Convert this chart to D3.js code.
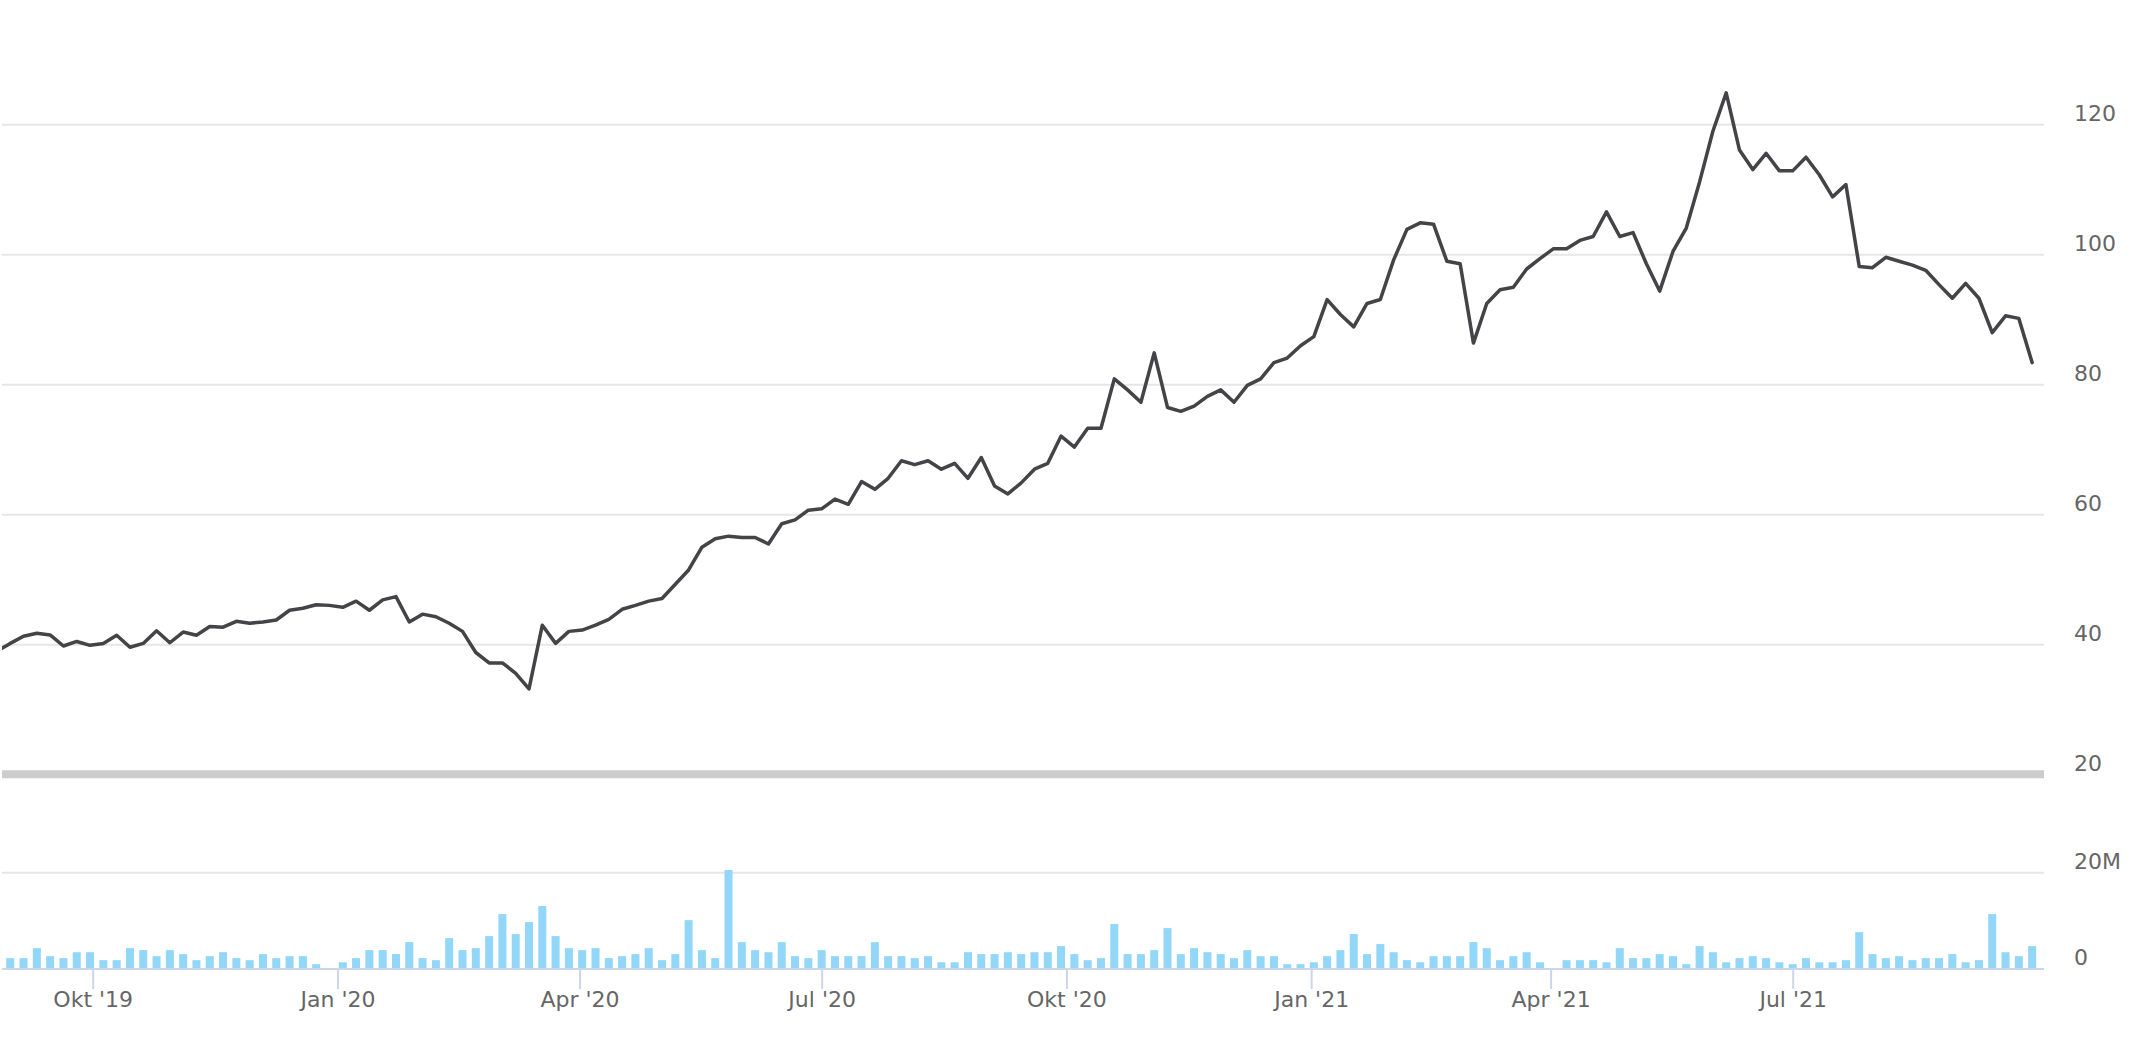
<!DOCTYPE html>
<html>
<head>
<meta charset="utf-8">
<script src="https://cdn.jsdelivr.net/npm/d3@7"></script>
<style>
  html, body { margin: 0; padding: 0; background: #ffffff; }
  svg { display: block; }
  .lbl text { font-family: "DejaVu Sans", sans-serif; font-size: 22px; fill: #666666; }
</style>
</head>
<body>
<svg id="chart" width="2144" height="1038"></svg>
<script>
// ---------- data ----------
// Price points: one every 5 days, first one (2019-08-26) lies just left of the visible plot
const priceStart = "2019-08-26";
const volumeStart = "2019-08-31";
const stepDays = 5;

const prices = [
  39.0,
  40.2, 41.3, 41.75, 41.5, 39.8, 40.5, 39.9, 40.2, 41.45, 39.6,
  40.2, 42.15, 40.3, 41.95, 41.45, 42.8, 42.7, 43.6, 43.3, 43.5,
  43.8, 45.3, 45.6, 46.15, 46.05, 45.75, 46.7, 45.3, 46.9, 47.4,
  43.5, 44.7, 44.3, 43.3, 42.05, 38.8, 37.2, 37.2, 35.6, 33.2,
  43.0, 40.2, 42.05, 42.25, 43.0, 43.9, 45.45, 46.05, 46.7, 47.1,
  49.3, 51.5, 55.0, 56.3, 56.7, 56.5, 56.5, 55.5, 58.6, 59.2,
  60.7, 60.9, 62.4, 61.6, 65.1, 63.9, 65.6, 68.3, 67.7, 68.3,
  67.0, 67.9, 65.6, 68.8, 64.4, 63.2, 64.9, 67.0, 67.9, 72.1,
  70.4, 73.3, 73.3, 80.9, 79.2, 77.3, 84.9, 76.5, 75.9, 76.7,
  78.2, 79.2, 77.3, 79.9, 80.9, 83.4, 84.1, 86.0, 87.4, 93.1,
  90.8, 88.9, 92.5, 93.1, 99.2, 103.9, 104.9, 104.7, 99.0, 98.6,
  86.4, 92.5, 94.6, 95.0, 97.8, 99.4, 100.9, 100.9, 102.2, 102.8,
  106.6, 102.8, 103.4, 98.6, 94.4, 100.5, 104.1, 111.2, 119.0, 124.9,
  116.1, 113.1, 115.6, 112.9, 112.9, 115.0, 112.3, 108.9, 110.8, 98.2,
  98.0, 99.6, 99.0, 98.4, 97.6, 95.4, 93.3, 95.6, 93.3, 88.0,
  90.6, 90.2, 83.4
];

// Volume in millions
const volumes = [
  2.16, 2.16, 4.25, 2.58, 2.16, 3.4, 3.4, 1.74, 1.74, 4.25,
  3.83, 2.58, 3.83, 3.0, 1.74, 2.58, 3.4, 2.16, 1.74, 3.0,
  2.16, 2.58, 2.58, 0.9, 0, 1.3, 2.16, 3.83, 3.83, 3.0,
  5.5, 2.16, 1.74, 6.34, 3.83, 4.25, 6.76, 11.36, 7.18, 9.69,
  13.03, 6.76, 4.25, 3.83, 4.25, 2.16, 2.58, 3.0, 4.25, 1.74,
  3.0, 10.1, 3.83, 2.16, 20.56, 5.5, 3.83, 3.4, 5.5, 2.58,
  2.16, 3.83, 2.58, 2.58, 2.58, 5.5, 2.58, 2.58, 2.16, 2.58,
  1.3, 1.3, 3.4, 3.0, 3.0, 3.4, 3.0, 3.4, 3.4, 4.67,
  3.0, 1.74, 2.16, 9.27, 3.0, 3.0, 3.83, 8.43, 3.0, 4.25,
  3.4, 3.0, 2.16, 3.83, 2.58, 2.58, 0.9, 0.9, 1.3, 2.58,
  3.83, 7.18, 3.0, 5.09, 3.4, 1.74, 1.3, 2.58, 2.58, 2.58,
  5.5, 4.25, 1.74, 2.58, 3.4, 1.3, 0, 1.74, 1.74, 1.74,
  1.3, 4.25, 2.16, 2.16, 3.0, 2.58, 0.9, 4.67, 3.4, 1.3,
  2.16, 2.58, 2.16, 1.3, 0.9, 2.16, 1.3, 1.3, 1.74, 7.6,
  3.0, 2.16, 2.58, 1.74, 2.16, 2.16, 3.0, 1.3, 1.74, 11.36,
  3.4, 2.58, 4.67
];

const xTickDates = ["2019-10-01", "2020-01-01", "2020-04-01", "2020-07-01",
                    "2020-10-01", "2021-01-01", "2021-04-01", "2021-07-01"];
const xTickLabels = ["Okt '19", "Jan '20", "Apr '20", "Jul '20",
                     "Okt '20", "Jan '21", "Apr '21", "Jul '21"];
const priceTicks = [20, 40, 60, 80, 100, 120];
const priceTickLabels = ["20", "40", "60", "80", "100", "120"];
const volumeTicks = [0, 20];
const volumeTickLabels = ["0", "20M"];

// ---------- layout ----------
const plotLeft = 2, plotRight = 2044;
const svg = d3.select("#chart");
const parse = d3.utcParse("%Y-%m-%d");

const priceDates = d3.utcDay.range(parse(priceStart), d3.utcDay.offset(parse(priceStart), stepDays * prices.length), stepDays)
  .filter((d, i) => d3.utcDay.count(parse(priceStart), d) % stepDays === 0).slice(0, prices.length);
const volDates = d3.utcDay.range(parse(volumeStart), d3.utcDay.offset(parse(volumeStart), stepDays * volumes.length), stepDays)
  .filter((d, i) => d3.utcDay.count(parse(volumeStart), d) % stepDays === 0).slice(0, volumes.length);

const priceData = prices.map((v, i) => ({ date: priceDates[i], v }));
const volData = volumes.map((v, i) => ({ date: volDates[i], v }));

const x = d3.scaleUtc()
  .domain([parse("2019-10-01"), parse("2021-07-01")])
  .range([92.7, 1792.7]);
const yPrice = d3.scaleLinear().domain([20, 120]).range([774.7, 124.7]);
const yVol = d3.scaleLinear().domain([0, 20]).range([968.5, 872.7]);

svg.append("defs").append("clipPath").attr("id", "clip")
  .append("rect").attr("x", plotLeft).attr("y", 0).attr("width", plotRight - plotLeft).attr("height", 770);

// price gridlines
svg.append("g").selectAll("line")
  .data(priceTicks.filter(t => t !== 20))
  .join("line")
  .attr("x1", plotLeft).attr("x2", plotRight)
  .attr("y1", d => yPrice(d)).attr("y2", d => yPrice(d))
  .attr("stroke", "#e6e6e6").attr("stroke-width", 2);

// separator / bottom line of price pane
svg.append("line")
  .attr("x1", plotLeft).attr("x2", plotRight)
  .attr("y1", yPrice(20) - 0.5).attr("y2", yPrice(20) - 0.5)
  .attr("stroke", "#cccccc").attr("stroke-width", 8);

// volume gridline
svg.append("g").selectAll("line")
  .data(volumeTicks.filter(t => t !== 0))
  .join("line")
  .attr("x1", plotLeft).attr("x2", plotRight)
  .attr("y1", d => yVol(d)).attr("y2", d => yVol(d))
  .attr("stroke", "#e6e6e6").attr("stroke-width", 2);

// volume bars
svg.append("g").selectAll("rect")
  .data(volData)
  .join("rect")
  .attr("x", d => x(d.date) - 4)
  .attr("width", 8)
  .attr("y", d => yVol(d.v))
  .attr("height", d => yVol(0) - yVol(d.v))
  .attr("fill", "#92d6f8");

// price line
const line = d3.line().x(d => x(d.date)).y(d => yPrice(d.v));
svg.append("path")
  .datum(priceData)
  .attr("clip-path", "url(#clip)")
  .attr("d", line)
  .attr("fill", "none")
  .attr("stroke", "#434348")
  .attr("stroke-width", 3.5)
  .attr("stroke-linejoin", "round")
  .attr("stroke-linecap", "round");

// x axis
const xAxis = d3.axisBottom(x)
  .tickValues(xTickDates.map(parse))
  .tickFormat((d, i) => xTickLabels[i])
  .tickSize(20)
  .tickSizeOuter(0);
const gx = svg.append("g").attr("class", "lbl").attr("transform", "translate(0,969)").call(xAxis);
gx.select(".domain").remove();
gx.selectAll(".tick line").attr("stroke", "#ccd6eb").attr("stroke-width", 2);
gx.selectAll(".tick text").attr("y", 37.5).attr("dy", null);
svg.append("line")
  .attr("x1", plotLeft).attr("x2", plotRight)
  .attr("y1", 969).attr("y2", 969)
  .attr("stroke", "#ccd6eb").attr("stroke-width", 2);

// price axis labels
const yAxisP = d3.axisRight(yPrice)
  .tickValues(priceTicks)
  .tickFormat((d, i) => priceTickLabels[i])
  .tickSize(0).tickPadding(0);
const gp = svg.append("g").attr("class", "lbl").attr("transform", "translate(2074,0)").call(yAxisP);
gp.select(".domain").remove();
gp.selectAll(".tick text").attr("y", -4).attr("dy", null).attr("text-anchor", "start");

// volume axis labels
const yAxisV = d3.axisRight(yVol)
  .tickValues(volumeTicks)
  .tickFormat((d, i) => volumeTickLabels[i])
  .tickSize(0).tickPadding(0);
const gv = svg.append("g").attr("class", "lbl").attr("transform", "translate(2074,0)").call(yAxisV);
gv.select(".domain").remove();
gv.selectAll(".tick text").attr("y", -4.5).attr("dy", null).attr("text-anchor", "start");
</script>
</body>
</html>
